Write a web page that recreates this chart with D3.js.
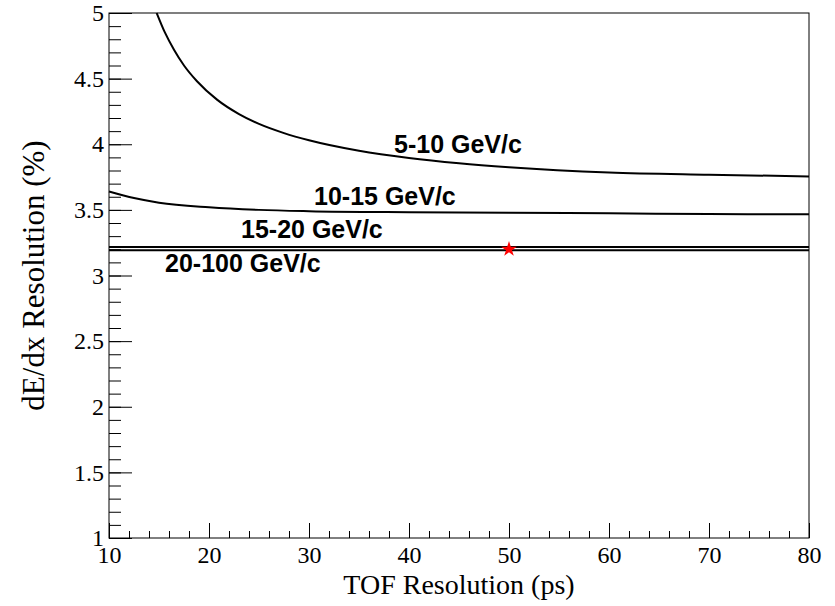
<!DOCTYPE html>
<html>
<head>
<meta charset="utf-8">
<script src="https://cdn.jsdelivr.net/npm/d3@7"></script>
<style>
  body { margin: 0; background: #fff; }
  svg { display: block; }
</style>
</head>
<body>
<svg width="835" height="606"></svg>
<script>
// curves (TOF resolution in ps -> dE/dx resolution in %)
const tof510 = [14.77, 15.6, 16.5, 17.5, 18.8, 20.8, 23, 25, 27.5, 30, 35, 40, 45, 50, 60, 70, 80];
const res510 = [5.0, 4.85, 4.72, 4.60, 4.48, 4.34, 4.23, 4.155, 4.085, 4.03, 3.95, 3.895, 3.855, 3.825, 3.785, 3.768, 3.755];

const tof1015 = [10, 12.5, 15, 20, 25, 30, 40, 50, 60, 70, 80];
const res1015 = [3.64, 3.59, 3.555, 3.52, 3.50, 3.49, 3.482, 3.478, 3.474, 3.468, 3.466];

const tof1520 = [10, 80];
const res1520 = [3.218, 3.218];

const tof20100 = [10, 80];
const res20100 = [3.192, 3.192];

const markerTof = [50];
const markerRes = [3.2];

const seriesNames = ["5-10 GeV/c", "10-15 GeV/c", "15-20 GeV/c", "20-100 GeV/c"];

const xTicks = [10, 20, 30, 40, 50, 60, 70, 80];
const yTicks = [1, 1.5, 2, 2.5, 3, 3.5, 4, 4.5, 5];

const svg = d3.select("svg");
const mLeft = 109, mRight = 809, mTop = 13, mBottom = 538;

let x = d3.scaleLinear().domain([10, 80]).range([mLeft, mRight]);
let y = d3.scaleLinear().domain([1, 5]).range([mBottom, mTop]);

const serif = "'Liberation Serif', 'Times New Roman', serif";
const sans = "'Liberation Sans', Arial, Helvetica, sans-serif";

// minor ticks first
svg.append("g")
    .attr("transform", `translate(${mLeft},0)`)
    .call(d3.axisLeft(y).tickValues(d3.range(1, 5.001, 0.1)).tickSizeInner(-12).tickSizeOuter(0).tickFormat(""))
    .call(g => g.select(".domain").remove());

svg.append("g")
    .attr("transform", `translate(0,${mBottom})`)
    .call(d3.axisBottom(x).tickValues(d3.range(10, 80.001, 2)).tickSizeInner(-7).tickSizeOuter(0).tickFormat(""))
    .call(g => g.select(".domain").remove());

// major ticks with labels
svg.append("g")
    .attr("transform", `translate(${mLeft},0)`)
    .call(d3.axisLeft(y).tickValues(yTicks).tickSizeInner(-23).tickSizeOuter(0).tickPadding(5).tickFormat(d3.format("")))
    .call(g => g.select(".domain").remove())
    .attr("font-family", serif)
    .attr("font-size", 24);

svg.append("g")
    .attr("transform", `translate(0,${mBottom})`)
    .call(d3.axisBottom(x).tickValues(xTicks).tickSizeInner(-15).tickSizeOuter(0).tickPadding(8))
    .call(g => g.select(".domain").remove())
    .attr("font-family", serif)
    .attr("font-size", 24);

svg.selectAll(".tick line").attr("stroke", "#000").attr("stroke-width", 1);
svg.selectAll(".tick text").attr("fill", "#000");

// frame
svg.append("rect")
    .attr("x", mLeft).attr("y", mTop)
    .attr("width", mRight - mLeft).attr("height", mBottom - mTop)
    .attr("fill", "none").attr("stroke", "#000").attr("stroke-width", 1);

// curves
const curves = [
  [tof510, res510],
  [tof1015, res1015],
  [tof1520, res1520],
  [tof20100, res20100]
];

let line = d3.line()
    .x(d => x(d[0]))
    .y(d => y(d[1]))
    .curve(d3.curveMonotoneX);

svg.append("g").selectAll("path")
    .data(curves)
  .enter().append("path")
    .attr("d", (c) => line(d3.zip(c[0], c[1])))
    .attr("fill", "none")
    .attr("stroke", "#000")
    .attr("stroke-width", 2);

// curve labels (anchor in data units)
const labelPos = [[38.5, 3.93], [30.5, 3.535], [23.2, 3.285], [15.6, 3.03]];

svg.append("g").selectAll("text")
    .data(seriesNames)
  .enter().append("text")
    .attr("x", (d, i) => x(labelPos[i][0]))
    .attr("y", (d, i) => y(labelPos[i][1]))
    .style("font-family", sans)
    .style("font-weight", "bold")
    .style("font-size", "25px")
    .text(d => d);

// red star marker
svg.append("g").selectAll("path")
    .data(d3.zip(markerTof, markerRes))
  .enter().append("path")
    .attr("transform", d => `translate(${x(d[0])},${y(d[1])})`)
    .attr("d", d3.symbol(d3.symbolStar, 75))
    .attr("fill", "red");

// axis titles
svg.append("text")
    .attr("x", (mLeft + mRight) / 2)
    .attr("y", 594)
    .attr("text-anchor", "middle")
    .style("font-family", serif)
    .style("font-size", "28px")
    .text("TOF Resolution (ps)");

svg.append("text")
    .attr("transform", `translate(44,${(mTop + mBottom) / 2}) rotate(-90)`)
    .attr("text-anchor", "middle")
    .style("font-family", serif)
    .style("font-size", "31px")
    .text("dE/dx Resolution (%)");
</script>
</body>
</html>
